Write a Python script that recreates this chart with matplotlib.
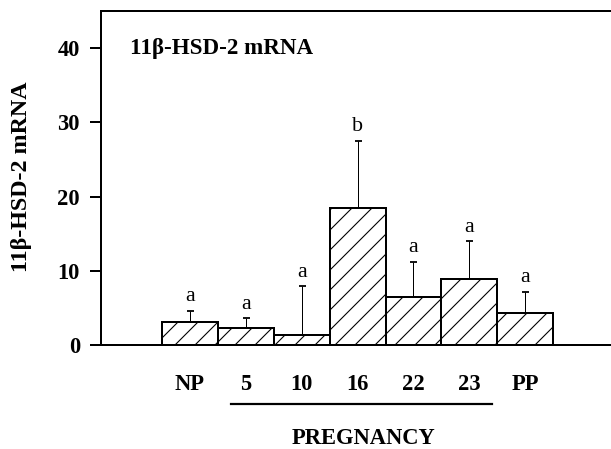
import matplotlib
matplotlib.use("Agg")
import matplotlib.pyplot as plt
import matplotlib.transforms as mtrans

categories = ['NP', '5', '10', '16', '22', '23', 'PP']
means = [3.1, 2.3, 1.3, 18.4, 6.4, 8.9, 4.3]
sem = [1.5, 1.3, 6.6, 9.1, 4.8, 5.1, 2.9]
letters = ['a', 'a', 'a', 'b', 'a', 'a', 'a']
yticks = [0, 10, 20, 30, 40]

DPI = 120
W, H = 611, 449
def px(v):
    return v * 72.0 / DPI

plt.rcParams['font.family'] = ['Liberation Serif', 'DejaVu Serif']
plt.rcParams['hatch.linewidth'] = px(1.1)
plt.rcParams['hatch.color'] = 'black'

fig = plt.figure(figsize=(W / DPI, H / DPI), dpi=DPI)
ax = fig.add_axes([101 / W, 1 - 345 / H, 510 / W, 334 / H])

x = list(range(len(categories)))
ax.bar(x, means, width=1.0, facecolor='white', edgecolor='black',
       linewidth=px(2), hatch='//', zorder=2)
ax.errorbar(x, means, yerr=[[0] * len(sem), sem], fmt='none', ecolor='black',
            elinewidth=px(1), capsize=px(3.5), capthick=px(1.8), zorder=1)

for xi, m, s, l in zip(x, means, sem, letters):
    ax.annotate(l, (xi, m + s), xytext=(0, px(9.5)), textcoords='offset points',
                ha='center', va='baseline', fontsize=px(22))

ax.set_xlim(-1.585, 7.53)
ax.set_ylim(0, 45)
ax.set_yticks(yticks)
ax.set_xticks(x)
ax.set_xticklabels(categories)
for lab in ax.get_xticklabels() + ax.get_yticklabels():
    lab.set_fontweight('bold')
    lab.set_fontsize(px(22.5))
ax.tick_params(axis='y', direction='out', length=px(11), width=px(2), pad=px(10))
ax.tick_params(axis='x', length=0, pad=px(29))

for sp in ['left', 'bottom', 'top']:
    ax.spines[sp].set_linewidth(px(2))
ax.spines['right'].set_visible(False)

ax.text(0.057, 0.889, '11β-HSD-2 mRNA', transform=ax.transAxes,
        ha='left', va='center', fontsize=px(23), fontweight='bold')

fig.text(22 / W, 1 - 177 / H, '11β-HSD-2 mRNA', rotation=90, ha='center',
         va='center', fontsize=px(24), fontweight='bold')

trans = mtrans.blended_transform_factory(ax.transData, ax.transAxes)
ax.plot([0.733, 5.40], [-0.177, -0.177], color='black', linewidth=px(2.2),
        transform=trans, clip_on=False)
ax.text(3.1, -0.281, 'PREGNANCY', transform=trans, ha='center', va='center',
        fontsize=px(22.5), fontweight='bold')

fig.savefig('out.png', dpi=DPI)
